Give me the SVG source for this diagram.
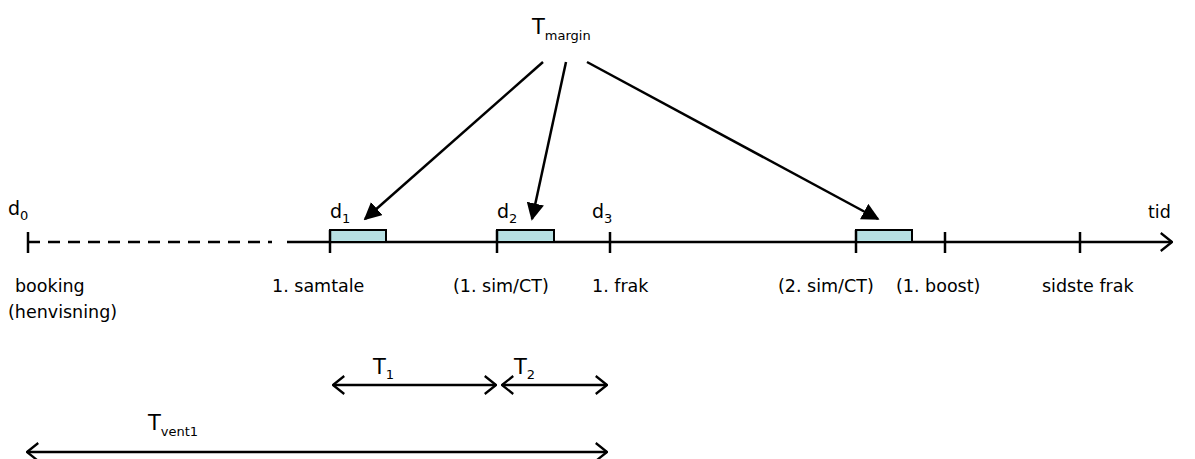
<svg xmlns="http://www.w3.org/2000/svg" width="1195" height="459" viewBox="0 0 1195 459">
<style>
text{font-family:"DejaVu Sans","Liberation Sans",sans-serif;font-size:17.5px;fill:#000}
.sub{font-size:13px}
.big{font-size:21px}
.ln{stroke:#000;stroke-width:2.5;fill:none}
.box{fill:#b7e0e3;stroke:#000;stroke-width:2}
</style>
<defs>
<marker id="tri" viewBox="0 0 10 10" refX="9" refY="5" markerWidth="7" markerHeight="7" orient="auto" markerUnits="strokeWidth">
<path d="M0,0 L10,5 L0,10 z" fill="#000"/>
</marker>
<marker id="open" viewBox="0 0 12 18" refX="11" refY="9" markerWidth="5.4" markerHeight="8.1" orient="auto-start-reverse" markerUnits="strokeWidth">
<path d="M1,1 L11,9 L1,17" fill="none" stroke="#000" stroke-width="2"/>
</marker>
</defs>
<g id="connectors">
<line class="ln" x1="28" y1="242" x2="272" y2="242" stroke-dasharray="12 8" stroke-width="3"/>
<line class="ln" x1="287" y1="242" x2="1172" y2="242" stroke-width="3" marker-end="url(#open)"/>
<line class="ln" x1="28" y1="232" x2="28" y2="253" stroke-width="3"/>
<line class="ln" x1="610" y1="232" x2="610" y2="253" stroke-width="3"/>
<line class="ln" x1="945" y1="232" x2="945" y2="253" stroke-width="3"/>
<line class="ln" x1="1080" y1="232" x2="1080" y2="253" stroke-width="3"/>
<line class="ln" x1="543" y1="62" x2="365" y2="219" stroke-width="2" marker-end="url(#tri)"/>
<line class="ln" x1="566" y1="62" x2="532" y2="219" stroke-width="2" marker-end="url(#tri)"/>
<line class="ln" x1="587" y1="62" x2="878" y2="219" stroke-width="2" marker-end="url(#tri)"/>
<line class="ln" x1="333" y1="385" x2="496" y2="385" stroke-width="2" marker-start="url(#open)" marker-end="url(#open)"/>
<line class="ln" x1="502" y1="385" x2="607" y2="385" stroke-width="2" marker-start="url(#open)" marker-end="url(#open)"/>
<line class="ln" x1="27" y1="452" x2="607" y2="452" stroke-width="2" marker-start="url(#open)" marker-end="url(#open)"/>
</g>
<g id="box1"><rect class="box" x="330" y="230" width="56" height="12"/><line class="ln" x1="330" y1="230" x2="330" y2="253" stroke-width="3"/></g>
<g id="box2"><rect class="box" x="497" y="230" width="57" height="12"/><line class="ln" x1="497" y1="230" x2="497" y2="253" stroke-width="3"/></g>
<g id="box3"><rect class="box" x="856" y="230" width="56" height="12"/><line class="ln" x1="856" y1="230" x2="856" y2="253" stroke-width="3"/></g>
<g id="labels">
<text x="8" y="215" class="big" style="font-size:19px">d<tspan class="sub" dy="5">0</tspan></text>
<text x="330" y="218" style="font-size:19px">d<tspan class="sub" dy="5">1</tspan></text>
<text x="497" y="218" style="font-size:19px">d<tspan class="sub" dy="5">2</tspan></text>
<text x="592" y="218" style="font-size:19px">d<tspan class="sub" dy="5">3</tspan></text>
<text x="1148" y="218">tid</text>
<text x="15" y="292">booking</text>
<text x="8" y="318">(henvisning)</text>
<text x="272" y="292">1. samtale</text>
<text x="453" y="292">(1. sim/CT)</text>
<text x="592" y="292">1. frak</text>
<text x="778" y="292">(2. sim/CT)</text>
<text x="896" y="292">(1. boost)</text>
<text x="1042" y="292">sidste frak</text>
<text x="373" y="374" class="big">T<tspan class="sub" dy="5">1</tspan></text>
<text x="514" y="374" class="big">T<tspan class="sub" dy="5">2</tspan></text>
<text x="148" y="430" class="big">T<tspan class="sub" dy="6">vent1</tspan></text>
<text x="532" y="34" class="big">T<tspan class="sub" dy="6">margin</tspan></text>
</g>
</svg>
